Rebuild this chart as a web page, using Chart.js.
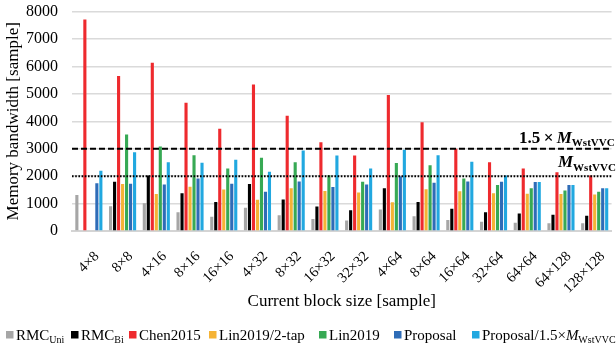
<!DOCTYPE html>
<html>
<head>
<meta charset="utf-8">
<script src="https://cdn.jsdelivr.net/npm/chart.js@4/dist/chart.umd.min.js"></script>
<style>
  html, body { margin: 0; padding: 0; background: #fff; overflow: hidden; }
  #wrap { width: 616px; height: 352px; position: relative; }
</style>
</head>
<body>
<div id="wrap"><canvas id="c"></canvas></div>
<script>
// Block sizes (x categories)
const blockSizes = ['4×8', '8×8', '4×16', '8×16', '16×16', '4×32', '8×32', '16×32',
                    '32×32', '4×64', '8×64', '16×64', '32×64', '64×64', '64×128', '128×128'];

// Memory bandwidth per method [sample]
const rmcUni    = [1310,  900, 1010,  680,  520,  850,  570,  440,  380,  780,  535,  400,  340,  305,  280,  280];
const rmcBi     = [null, 1800, 2025, 1380, 1055, 1710, 1150,  890,  755, 1555, 1055,  815,  680,  635,  595,  560];
const chen2015  = [7710, 5650, 6135, 4680, 3725, 5345, 4205, 3235, 2755, 4960, 3965, 3000, 2510, 2280, 2145, 2025];
const lin2tap   = [null, 1710, 1345, 1615, 1515, 1140, 1555, 1455, 1405, 1045, 1525, 1445, 1380, 1360, 1345, 1335];
const lin2019   = [null, 3515, 3080, 2765, 2280, 2670, 2510, 2035, 1795, 2475, 2400, 1915, 1675, 1555, 1480, 1435];
const proposal  = [1745, 1725, 1700, 1915, 1725, 1430, 1805, 1600, 1700, 2000, 1760, 1805, 1795, 1790, 1675, 1555];
const proposal15 = [2195, 2875, 2510, 2485, 2595, 2160, 2935, 2755, 2280, 2960, 2765, 2525, 2025, 1790, 1675, 1555];

// Series names; _{..} marks a subscript, *..* marks italic
const seriesLabels = ['RMC_{Uni}', 'RMC_{Bi}', 'Chen2015', 'Lin2019/2-tap', 'Lin2019', 'Proposal',
                      'Proposal/1.5×*M*_{WstVVC}'];

// Reference bandwidth limits and their captions
const refLineValues = [3000, 2000];
const refLineLabels = ['1.5\u2009×\u2009*M*_{WstVVC}', '*M*_{WstVVC}'];

const yTickMax = 8000;
const yTickStep = 1000;

const FONT = '"Liberation Serif", "Times New Roman", serif';
const colors = ['#a6a6a6', '#000000', '#ee2a2e', '#f5b335', '#37a954', '#2e6cb7', '#21a8e0'];
const seriesValues = [rmcUni, rmcBi, chen2015, lin2tap, lin2019, proposal, proposal15];

function parseRich(s) {
  const out = [];
  let buf = '', italic = false, i = 0;
  while (i < s.length) {
    const ch = s[i];
    if (ch === '*') {
      if (buf) { out.push({ t: buf, italic, sub: false }); buf = ''; }
      italic = !italic; i++; continue;
    }
    if (ch === '_' && s[i + 1] === '{') {
      if (buf) { out.push({ t: buf, italic, sub: false }); buf = ''; }
      const j = s.indexOf('}', i);
      out.push({ t: s.slice(i + 2, j), italic: false, sub: true });
      i = j + 1; continue;
    }
    buf += ch; i++;
  }
  if (buf) out.push({ t: buf, italic, sub: false });
  return out;
}

function drawRich(ctx, s, x, y, size, bold) {
  ctx.textAlign = 'left';
  ctx.textBaseline = 'alphabetic';
  for (const seg of parseRich(s)) {
    const sz = seg.sub ? Math.round(size * 0.66) : size;
    ctx.font = (seg.italic ? 'italic ' : '') + (bold ? 'bold ' : '') + sz + 'px ' + FONT;
    ctx.fillText(seg.t, x, seg.sub ? y + size * 0.2 : y);
    x += ctx.measureText(seg.t).width;
  }
  return x;
}

// Dashed / dotted limit lines with their captions
const refLinesPlugin = {
  id: 'refLines',
  afterDatasetsDraw(chart) {
    const { ctx, chartArea, scales } = chart;
    const styles = [
      { dash: [6, 3], width: 2, labelX: 519, labelDy: -6 },
      { dash: [1.6, 1.6], width: 2, labelX: 558, labelDy: -9 }
    ];
    refLineValues.forEach((v, i) => {
      const y = scales.y.getPixelForValue(v);
      const st = styles[i];
      ctx.save();
      ctx.strokeStyle = '#000';
      ctx.lineWidth = st.width;
      ctx.setLineDash(st.dash);
      ctx.beginPath();
      ctx.moveTo(chartArea.left, y);
      ctx.lineTo(chartArea.right, y);
      ctx.stroke();
      ctx.setLineDash([]);
      ctx.fillStyle = '#000';
      drawRich(ctx, refLineLabels[i], st.labelX, y + st.labelDy, 17, true);
      ctx.restore();
    });
  }
};

// Legend row with subscripted series names
const legendPlugin = {
  id: 'richLegend',
  afterDraw(chart) {
    const { ctx } = chart;
    const xs = [6, 71, 129, 209, 319, 394, 472];
    ctx.save();
    chart.data.datasets.forEach((ds, i) => {
      ctx.fillStyle = ds.backgroundColor;
      ctx.fillRect(xs[i], 331, 7.5, 7.5);
      ctx.fillStyle = '#000';
      drawRich(ctx, ds.label, xs[i] + 10, 340, 15, false);
    });
    ctx.restore();
  }
};

new Chart(document.getElementById('c'), {
  type: 'bar',
  data: {
    labels: blockSizes,
    datasets: seriesLabels.map((name, i) => ({
      label: name,
      data: seriesValues[i],
      backgroundColor: colors[i],
      borderWidth: 0,
      categoryPercentage: 0.83,
      barPercentage: 0.78
    }))
  },
  options: {
    responsive: true,
    maintainAspectRatio: false,
    animation: false,
    layout: { padding: { top: 0, right: 0, bottom: 40, left: 0 } },
    plugins: {
      legend: { display: false },
      tooltip: { enabled: false }
    },
    scales: {
      x: {
        afterFit(scale) { scale.height = 81; },
        grid: { display: false },
        border: { display: true, color: '#d4d4d4', width: 2 },
        ticks: {
          color: '#000',
          font: { family: FONT, size: 14.5 },
          maxRotation: 45,
          minRotation: 45,
          padding: 9,
          labelOffset: 8,
          autoSkip: false
        },
        title: {
          display: true,
          text: 'Current block size [sample]',
          color: '#000',
          font: { family: FONT, size: 17 },
          padding: { top: 2, bottom: 0 }
        }
      },
      y: {
        min: 0,
        max: yTickMax,
        afterFit(scale) { scale.width = 72; },
        grid: { color: '#dadada', lineWidth: 1.6, drawTicks: true, tickLength: 12, tickColor: 'rgba(0,0,0,0)' },
        border: { display: false },
        ticks: {
          stepSize: yTickStep,
          color: '#000',
          font: { family: FONT, size: 16 },
          padding: 2,
          callback: (v) => String(v)
        },
        title: {
          display: true,
          text: 'Memory bandwidth [sample]',
          color: '#000',
          font: { family: FONT, size: 17 },
          padding: { top: 3, bottom: 0 }
        }
      }
    }
  },
  plugins: [refLinesPlugin, legendPlugin]
});
</script>
</body>
</html>
